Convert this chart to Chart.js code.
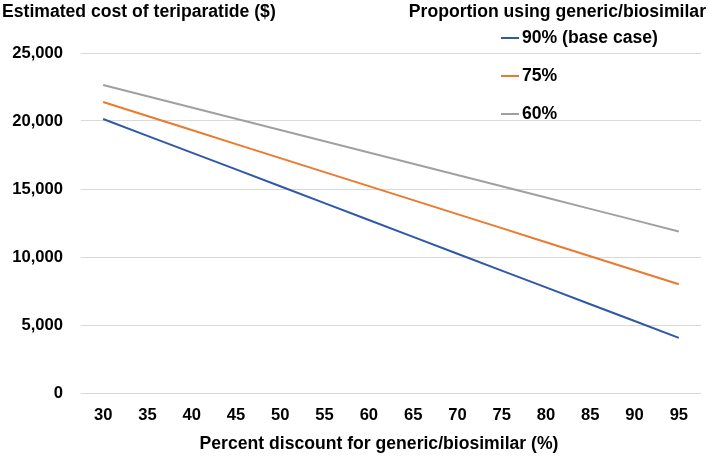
<!DOCTYPE html>
<html lang="en">
<head>
  <meta charset="UTF-8">
  <title>Estimated cost of teriparatide</title>
  <script src="https://cdn.jsdelivr.net/npm/chart.js"></script>
  <style>
    body { margin: 0; background: #fff; }
    .wrap { width: 709px; height: 457px; }
  </style>
</head>
<body>
<div class="wrap"><canvas id="chart" width="709" height="457"></canvas></div>
<script>
  const discounts = ['30', '35', '40', '45', '50', '55', '60', '65', '70', '75', '80', '85', '90', '95'];
  const base90 = [20150, 18910, 17670, 16440, 15200, 13960, 12720, 11480, 10240, 9000, 7770, 6530, 5290, 4050];
  const prop75 = [21400, 20370, 19340, 18300, 17270, 16240, 15210, 14180, 13150, 12120, 11090, 10060, 9030, 8000];
  const prop60 = [22650, 21820, 20990, 20170, 19340, 18510, 17680, 16850, 16030, 15200, 14370, 13540, 12710, 11880];
  const seriesNames = ['90% (base case)', '75%', '60%'];
  const yTicks = [0, 5000, 10000, 15000, 20000, 25000];

  const FONT = '"Liberation Sans", Arial, sans-serif';

  // titles and legend are drawn by hand, the legend sits over the plot like in the original
  const overlay = {
    id: 'overlay',
    afterDraw(chart) {
      const c = chart.ctx;
      c.save();
      c.fillStyle = '#000';
      c.textBaseline = 'middle';
      c.font = 'bold 17.6px ' + FONT;
      c.textAlign = 'left';
      c.fillText('Estimated cost of teriparatide ($)', 2, 12);
      c.textAlign = 'right';
      c.fillText('Proportion using generic/biosimilar', 706, 12);
      c.textAlign = 'center';
      c.fillText('Percent discount for generic/biosimilar (%)', 379, 444);
      c.textAlign = 'left';
      chart.data.datasets.forEach((ds, i) => {
        const y = 38 + i * 38;
        c.strokeStyle = ds.borderColor;
        c.lineWidth = 2;
        c.beginPath();
        c.moveTo(501, y);
        c.lineTo(519, y);
        c.stroke();
        c.fillText(ds.label, 522, y);
      });
      c.restore();
    }
  };

  new Chart(document.getElementById('chart'), {
    type: 'line',
    data: {
      labels: discounts,
      datasets: [
        { label: seriesNames[0], data: base90, borderColor: '#3058A8' },
        { label: seriesNames[1], data: prop75, borderColor: '#E97A2E' },
        { label: seriesNames[2], data: prop60, borderColor: '#A0A0A0' }
      ].map(d => Object.assign(d, { borderWidth: 2, pointRadius: 0, tension: 0, fill: false }))
    },
    options: {
      responsive: false,
      animation: false,
      layout: { padding: { top: 53, right: 8, left: 0, bottom: 4 } },
      plugins: { legend: { display: false }, title: { display: false }, tooltip: { enabled: false } },
      scales: {
        x: {
          offset: true,
          grid: { display: false },
          border: { display: false },
          ticks: { color: '#000', font: { family: FONT, size: 16.6, weight: 'bold' }, padding: 4, maxRotation: 0 },
          afterFit(s) { s.height = 60; }
        },
        y: {
          min: 0,
          max: 25000,
          afterBuildTicks(s) { s.ticks = yTicks.map(v => ({ value: v })); },
          grid: { color: '#D9D9D9', lineWidth: 1, drawTicks: false },
          border: { display: false },
          ticks: {
            color: '#000',
            font: { family: FONT, size: 16.6, weight: 'bold' },
            padding: 18,
            callback: v => v.toLocaleString('en-US')
          },
          afterFit(s) { s.width = 81; }
        }
      }
    },
    plugins: [overlay]
  });
</script>
</body>
</html>
